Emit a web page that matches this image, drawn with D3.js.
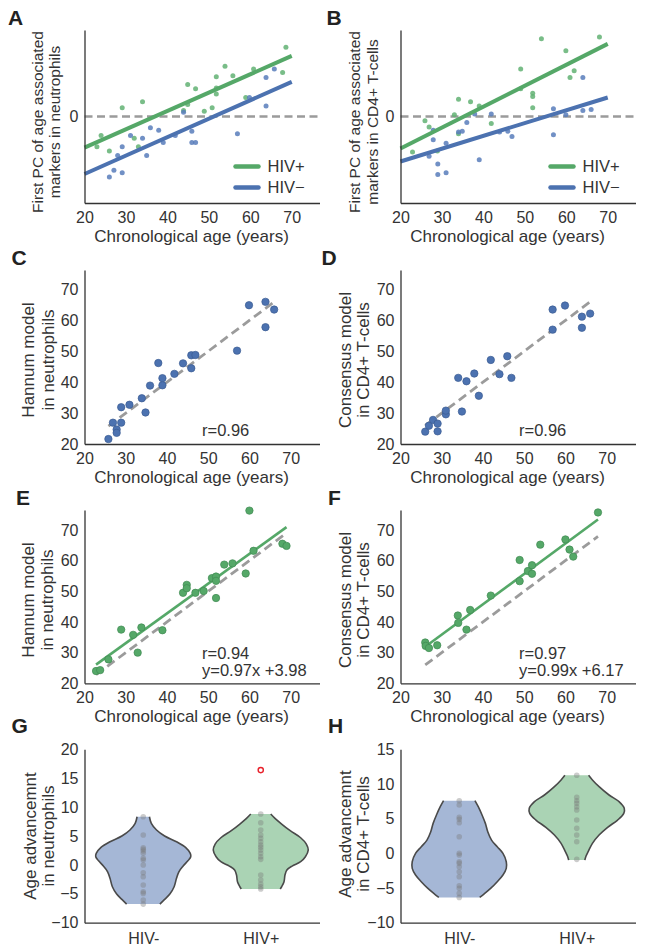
<!DOCTYPE html>
<html><head><meta charset="utf-8">
<script src="https://cdn.jsdelivr.net/npm/d3@7"></script>
<style>body{margin:0;background:#fff}</style>
</head><body><svg id="fig" width="645" height="951" style="background:#fff"></svg>
<script>
// ---------- data ----------
const ageTicks = [20, 30, 40, 50, 60, 70];
const fitAgeRange = [20, 70];
// Panel A (neutrophils, first PC)
const aPosAge = [68.6, 53.9, 55.8, 51.8, 44.9, 46.8, 60.8, 67.8, 51.8, 51.8, 58.9, 34.0, 29.1, 44.9, 43.9, 50.8, 48.9, 24.0, 23.0, 32.0, 33.0, 26.0];
const aPosPC  = [0.80, 0.58, 0.47, 0.46, 0.37, 0.32, 0.55, 0.51, 0.33, 0.26, 0.22, 0.17, 0.10, 0.14, 0.07, 0.10, 0.06, -0.22, -0.35, -0.25, -0.35, -0.40];
const aNegAge = [65.8, 63.8, 59.8, 63.8, 43.9, 35.9, 37.9, 31.1, 34.0, 39.0, 41.9, 45.9, 45.9, 46.8, 56.9, 29.1, 28.0, 35.0, 27.1, 29.1, 26.0];
const aNegPC  = [0.55, 0.45, 0.22, 0.12, 0.05, -0.13, -0.16, -0.22, -0.25, -0.30, -0.22, -0.17, -0.30, -0.30, -0.20, -0.35, -0.45, -0.45, -0.62, -0.65, -0.70];
const aFitPos = [-0.36, 0.70];
const aFitNeg = [-0.665, 0.40];
// Panel B (CD4+ T-cells, first PC)
const bPosAge = [68.0, 54.0, 59.9, 49.0, 61.9, 60.9, 49.0, 51.9, 51.9, 51.9, 34.0, 36.9, 39.0, 33.0, 25.9, 26.9, 41.9, 34.0, 22.9, 28.9];
const bPosPC  = [0.92, 0.90, 0.76, 0.55, 0.53, 0.45, 0.32, 0.27, 0.23, 0.10, 0.20, 0.17, 0.12, 0.02, -0.05, -0.12, -0.08, -0.20, -0.41, -0.40];
const bNegAge = [64.0, 56.9, 64.0, 66.0, 59.9, 41.9, 37.9, 36.0, 34.9, 34.0, 43.9, 45.9, 46.9, 56.9, 27.9, 27.9, 31.0, 26.9, 29.0, 29.0, 31.0, 39.0];
const bNegPC  = [0.45, 0.09, 0.07, 0.08, 0.02, 0.03, 0.03, -0.07, -0.17, -0.18, -0.18, -0.17, -0.23, -0.21, -0.27, -0.16, -0.31, -0.46, -0.55, -0.67, -0.65, -0.50];
const bFitPos = [-0.37, 0.84];
const bFitNeg = [-0.52, 0.22];
// Panel C (Hannum, HIV-)
const cAge  = [25.8, 26.9, 27.8, 27.8, 28.9, 28.9, 30.9, 33.9, 34.8, 35.9, 37.9, 38.9, 38.9, 41.8, 43.9, 45.9, 46.9, 45.9, 57.0, 59.9, 63.9, 63.9, 66.0];
const cPred = [21.6, 26.9, 24.7, 23.6, 26.9, 31.9, 32.7, 34.8, 30.2, 38.9, 46.2, 41.3, 39.0, 42.7, 46.1, 48.7, 48.8, 44.5, 50.2, 64.9, 66.0, 57.8, 63.5];
// Panel D (Consensus, HIV-)
const dAge  = [26.0, 26.9, 27.9, 29.0, 29.0, 31.0, 31.0, 34.9, 34.0, 36.0, 37.9, 39.0, 41.9, 44.0, 45.9, 46.9, 56.9, 56.9, 59.9, 64.0, 64.0, 66.0];
const dPred = [24.0, 25.9, 27.8, 26.6, 24.1, 29.6, 30.8, 30.5, 41.4, 40.3, 42.8, 35.6, 47.2, 42.6, 48.4, 41.4, 63.5, 57.0, 64.8, 61.2, 57.6, 62.2];
// Panel E (Hannum, HIV+)
const eAge  = [22.8, 23.8, 25.8, 28.9, 31.8, 33.8, 32.9, 38.9, 43.9, 44.8, 44.8, 46.9, 48.9, 50.9, 51.9, 51.9, 51.9, 53.9, 55.9, 59.1, 60.0, 61.0, 68.0, 69.0];
const ePred = [24.0, 24.3, 27.8, 37.5, 35.8, 38.2, 30.0, 37.3, 49.5, 52.1, 51.0, 49.5, 50.1, 54.3, 54.8, 53.4, 47.8, 58.7, 59.1, 55.8, 76.3, 63.2, 65.5, 64.8];
const eFit  = [0.97, 3.98];
// Panel F (Consensus, HIV+)
const fAge  = [26.0, 26.1, 26.9, 28.9, 33.9, 34.0, 36.0, 36.9, 41.9, 48.9, 48.9, 50.9, 51.9, 51.9, 53.9, 60.0, 61.0, 61.9, 67.9];
const fPred = [33.3, 32.2, 31.5, 32.4, 42.1, 39.7, 37.5, 43.9, 48.6, 60.2, 53.3, 56.6, 58.5, 55.7, 65.2, 66.9, 63.6, 61.3, 75.7];
const fFit  = [0.99, 6.17];
// Panel G (age advancement, neutrophils)
const groups = ["HIV-", "HIV+"];
const gNegPts = [8.33, 5.17, 2.97, 2.69, 2.40, 2.0, 1.13, 0.84, -0.03, -1.36, -2.05, -3.49, -4.65, -4.93, -6.08, -6.78];
const gPosPts = [8.80, 7.30, 6.03, 5.17, 4.59, 4.01, 3.43, 3.04, 2.57, 2.0, 1.41, 0.96, -1.76, -2.62, -3.32, -3.78, -4.18];
const gOutlier = [16.4];
const gNegLevels  = [8.33, 7.19, 6.03, 4.99, 4.01, 3.04, 2.00, 1.41, 0.72, -0.20, -1.19, -2.33, -3.78, -5.05, -5.97, -6.78];
const gNegDensity = [0.13, 0.17, 0.28, 0.45, 0.70, 0.89, 0.99, 1.0, 0.94, 0.84, 0.75, 0.70, 0.65, 0.56, 0.45, 0.35];
const gPosLevels  = [8.80, 8.05, 7.07, 5.92, 4.70, 3.61, 2.57, 1.41, 0.55, -0.20, -0.89, -1.76, -2.91, -3.78, -4.18];
const gPosDensity = [0.21, 0.30, 0.44, 0.62, 0.84, 0.96, 1.0, 0.94, 0.84, 0.66, 0.55, 0.51, 0.49, 0.44, 0.41];
const gTicks = [-10, -5, 0, 5, 10, 15, 20];
// Panel H (age advancement, CD4+ T-cells)
const hNegPts = [7.59, 6.97, 5.19, 4.90, 4.41, 2.39, 0.0, -0.25, -1.21, -1.44, -1.93, -2.65, -3.38, -4.67, -5.05, -5.77, -6.35];
const hPosPts = [11.25, 8.08, 7.59, 7.21, 6.72, 6.25, 4.80, 3.60, 2.64, 1.68, -0.87];
const hNegLevels  = [7.59, 6.72, 5.52, 4.32, 3.12, 1.91, 0.95, -0.01, -1.21, -2.17, -3.13, -4.09, -5.06, -5.87, -6.35];
const hNegDensity = [0.33, 0.40, 0.48, 0.55, 0.60, 0.68, 0.80, 0.92, 0.99, 0.99, 0.92, 0.80, 0.66, 0.52, 0.43];
const hPosLevels  = [11.25, 10.58, 9.61, 8.41, 7.45, 6.49, 5.77, 4.80, 3.75, 2.64, 1.44, 0.24, -0.49, -0.97];
const hPosDensity = [0.25, 0.33, 0.47, 0.68, 0.89, 1.0, 0.99, 0.86, 0.65, 0.47, 0.33, 0.24, 0.19, 0.17];
const hTicks = [-10, -5, 0, 5, 10, 15];

// ---------- style ----------
const FONT = '"Liberation Sans", Arial, Helvetica, sans-serif';
const COL = {green: "#55a868", blue: "#4c72b0", greenDot: "#62b273", blueDot: "#587cbb",
  dash: "#9b9b9b", axis: "#333333", text: "#333333",
  vBlue: "#a5b7d6", vGreen: "#aad3b4", vLine: "#4a4a4a"};
const TICK = 16, TITLE = 17;
const svg = d3.select("#fig");
const LX = 84.5, RX = 400.5, W = 235;

function txt(x, y, s, size, opts = {}) {
  const t = svg.append("text").attr("x", x).attr("y", y).text(s)
    .attr("font-family", FONT).attr("font-size", size).attr("fill", COL.text);
  if (opts.anchor) t.attr("text-anchor", opts.anchor);
  if (opts.bold) t.attr("font-weight", "bold").attr("fill", "#222");
  return t;
}
function yLabel(lines, xs, cy, size) {
  lines.forEach((s, i) => svg.append("text")
    .attr("transform", `translate(${xs[i]},${cy}) rotate(-90)`)
    .attr("text-anchor", "middle").attr("dy", "0.35em")
    .attr("font-family", FONT).attr("font-size", size).attr("fill", COL.text).text(s));
}
function styleAxis(g) {
  g.attr("font-family", FONT).attr("font-size", TICK).attr("color", COL.text);
  g.select(".domain").attr("stroke", COL.axis).attr("stroke-width", 1.3);
}
function drawAxes(x, y, bottom, xTicks, yTicks, yFmt) {
  const ax = d3.axisBottom(x).tickSize(0).tickPadding(8.5).tickSizeOuter(0).tickValues(xTicks);
  const gx = svg.append("g").attr("transform", `translate(0,${bottom})`).call(ax);
  const ay = d3.axisLeft(y).tickValues(yTicks).tickSize(0).tickPadding(6).tickSizeOuter(0);
  if (yFmt) ay.tickFormat(yFmt);
  const gy = svg.append("g").attr("transform", `translate(${x.range()[0]},0)`).call(ay);
  styleAxis(gx); styleAxis(gy);
}
function xTitle(x0, bottom) {
  txt(x0 + 107, bottom + 39, "Chronological age (years)", TITLE, {anchor: "middle"});
}

// ---------- A / B: PC scatter ----------
function pcPanel(x0, posAge, posPC, negAge, negPC, fitPos, fitNeg, letter, lab, labX, legX, letterX) {
  const top = 30, bottom = 203;
  const x = d3.scaleLinear().domain([20, 76.7]).range([x0, x0 + W]);
  const y = d3.scaleLinear().domain([-1, 1]).range([bottom, top]);
  svg.append("line").attr("x1", x(20)).attr("x2", x(76.7)).attr("y1", y(0)).attr("y2", y(0))
    .attr("stroke", COL.dash).attr("stroke-width", 2.6).attr("stroke-dasharray", "8,4.5");
  svg.append("g").selectAll("circle").data(d3.zip(posAge, posPC)).join("circle")
    .attr("cx", d => x(d[0])).attr("cy", d => y(d[1])).attr("r", 2.5)
    .attr("fill", COL.greenDot).attr("fill-opacity", 0.85);
  svg.append("g").selectAll("circle").data(d3.zip(negAge, negPC)).join("circle")
    .attr("cx", d => x(d[0])).attr("cy", d => y(d[1])).attr("r", 2.5)
    .attr("fill", COL.blueDot).attr("fill-opacity", 0.85);
  const ln = d3.line().x(d => x(d[0])).y(d => y(d[1]));
  svg.append("path").attr("d", ln(d3.zip(fitAgeRange, fitPos))).attr("stroke", COL.green).attr("stroke-width", 4).attr("fill", "none");
  svg.append("path").attr("d", ln(d3.zip(fitAgeRange, fitNeg))).attr("stroke", COL.blue).attr("stroke-width", 4).attr("fill", "none");
  drawAxes(x, y, bottom, ageTicks, [0], d3.format("d"));
  // legend
  [["HIV+", COL.green, 166.5], ["HIV\u2212", COL.blue, 187.5]].forEach(([s, c, yy]) => {
    svg.append("line").attr("x1", legX).attr("x2", legX + 23).attr("y1", yy).attr("y2", yy)
      .attr("stroke", c).attr("stroke-width", 4.5).attr("stroke-linecap", "round");
    txt(legX + 32, yy + 5.9, s, 16.5);
  });
  xTitle(x0, bottom);
  yLabel(lab, labX, 122, 15.5);
  txt(letterX, 25, letter, 21, {bold: true});
}
pcPanel(LX, aPosAge, aPosPC, aNegAge, aNegPC, aFitPos, aFitNeg, "A",
  ["First PC of age associated", "markers in neutrophils"], [38, 55], 235.5, 8);
pcPanel(RX, bPosAge, bPosPC, bNegAge, bNegPC, bFitPos, bFitNeg, "B",
  ["First PC of age associated", "markers in CD4+ T-cells"], [355, 372.5], 550.5, 326.5);

// ---------- C-F: model scatter ----------
function modelPanel(x0, top, bottom, yMax, ages, preds, color, stroke, fit, stats, statX, lab, labX, labY, letter, letterX) {
  const x = d3.scaleLinear().domain([20, 77]).range([x0, x0 + W]);
  const y = d3.scaleLinear().domain([20, yMax]).range([bottom, top]);
  const ext = d3.extent(ages);
  const ln = d3.line().x(d => x(d[0])).y(d => y(d[1]));
  svg.append("path").attr("d", ln(ext.map(v => [v, v]))).attr("stroke", COL.dash)
    .attr("stroke-width", 2.8).attr("stroke-dasharray", "9,5").attr("fill", "none");
  if (fit) {
    svg.append("path").attr("d", ln(ext.map(v => [v, fit[0] * v + fit[1]]))).attr("stroke", color)
      .attr("stroke-width", 2.6).attr("fill", "none");
  }
  svg.append("g").selectAll("circle").data(d3.zip(ages, preds)).join("circle")
    .attr("cx", d => x(d[0])).attr("cy", d => y(d[1])).attr("r", 3.7)
    .attr("fill", color).attr("stroke", stroke).attr("stroke-width", 0.7);
  drawAxes(x, y, bottom, ageTicks, [20, 30, 40, 50, 60, 70], d3.format("d"));
  stats.forEach((s, i) => txt(statX, bottom - (stats.length === 1 ? 8 : 24.5 - 17.5 * i), s, 16.5));
  xTitle(x0, bottom);
  yLabel(lab, labX, labY, 17);
  txt(letterX, top - 5, letter, 21, {bold: true});
}
modelPanel(LX, 270, 444, 76.3, cAge, cPred, COL.blue, "#3b5c92", null, ["r=0.96"], 202,
  ["Hannum model", "in neutrophils"], [28, 48], 360, "C", 11.5);
modelPanel(RX, 270, 444, 76.3, dAge, dPred, COL.blue, "#3b5c92", null, ["r=0.96"], 519,
  ["Consensus model", "in CD4+ T-cells"], [345, 363.5], 360, "D", 321.5);
modelPanel(LX, 510, 683.3, 76.5, eAge, ePred, COL.green, "#3f8a51", eFit, ["r=0.94", "y=0.97x +3.98"], 202,
  ["Hannum model", "in neutrophils"], [28, 47.5], 600, "E", 16);
modelPanel(RX, 510, 683.3, 76.5, fAge, fPred, COL.green, "#3f8a51", fFit, ["r=0.97", "y=0.99x +6.17"], 519,
  ["Consensus model", "in CD4+ T-cells"], [345, 363.5], 600, "F", 328);

// ---------- G / H: violins ----------
function violinPanel(x0, yDom, ticks, negLv, negDen, negPts, posLv, posDen, posPts, outl, lab, labX, labY, letter, letterX) {
  const top = 749.3, bottom = 922.7;
  const x = d3.scalePoint().domain(groups).range([x0, x0 + W]).padding(0.5);
  const y = d3.scaleLinear().domain(yDom).range([bottom, top]);
  const wS = d3.scaleLinear().domain([0, 1]).range([0, 47.5]);
  const sets = [[groups[0], negLv, negDen, negPts, COL.vBlue], [groups[1], posLv, posDen, posPts, COL.vGreen]];
  sets.forEach(([gname, lv, den, pts, fill]) => {
    const cx = x(gname);
    const d = d3.zip(lv, den);
    const area = d3.area().y(p => y(p[0])).x0(p => cx - wS(p[1])).x1(p => cx + wS(p[1])).curve(d3.curveCatmullRom);
    svg.append("path").attr("d", area(d)).attr("fill", fill);
    [-1, 1].forEach(sg => {
      const l = d3.line().y(p => y(p[0])).x(p => cx + sg * wS(p[1])).curve(d3.curveCatmullRom);
      svg.append("path").attr("d", l(d)).attr("fill", "none").attr("stroke", COL.vLine).attr("stroke-width", 1.6);
    });
    svg.append("g").selectAll("circle").data(pts).join("circle")
      .attr("cx", cx).attr("cy", v => y(v)).attr("r", 2.8)
      .attr("fill", "#7a7a7a").attr("fill-opacity", 0.38);
  });
  if (outl) {
    svg.append("g").selectAll("circle").data(outl).join("circle")
      .attr("cx", x(groups[1])).attr("cy", v => y(v)).attr("r", 2.6)
      .attr("fill", "none").attr("stroke", "#e8202a").attr("stroke-width", 1.4);
  }
  const gx = svg.append("g").attr("transform", `translate(0,${bottom})`)
    .call(d3.axisBottom(x).tickSize(0).tickPadding(9.5).tickSizeOuter(0));
  const gy = svg.append("g").attr("transform", `translate(${x0},0)`)
    .call(d3.axisLeft(y).tickValues(ticks).tickSize(0).tickPadding(6).tickSizeOuter(0));
  styleAxis(gx); styleAxis(gy);
  yLabel(lab, labX, labY, 17);
  txt(letterX, 733, letter, 21, {bold: true});
}
violinPanel(LX, [-10, 20], gTicks, gNegLevels, gNegDensity, gNegPts, gPosLevels, gPosDensity, gPosPts, gOutlier,
  ["Age advancemnt", "in neutrophils"], [30, 48.5], 836, "G", 11.5);
violinPanel(RX, [-10, 15], hTicks, hNegLevels, hNegDensity, hNegPts, hPosLevels, hPosDensity, hPosPts, null,
  ["Age advancemnt", "in CD4+ T-cells"], [345, 363.5], 834, "H", 328);
</script>
</body></html>
